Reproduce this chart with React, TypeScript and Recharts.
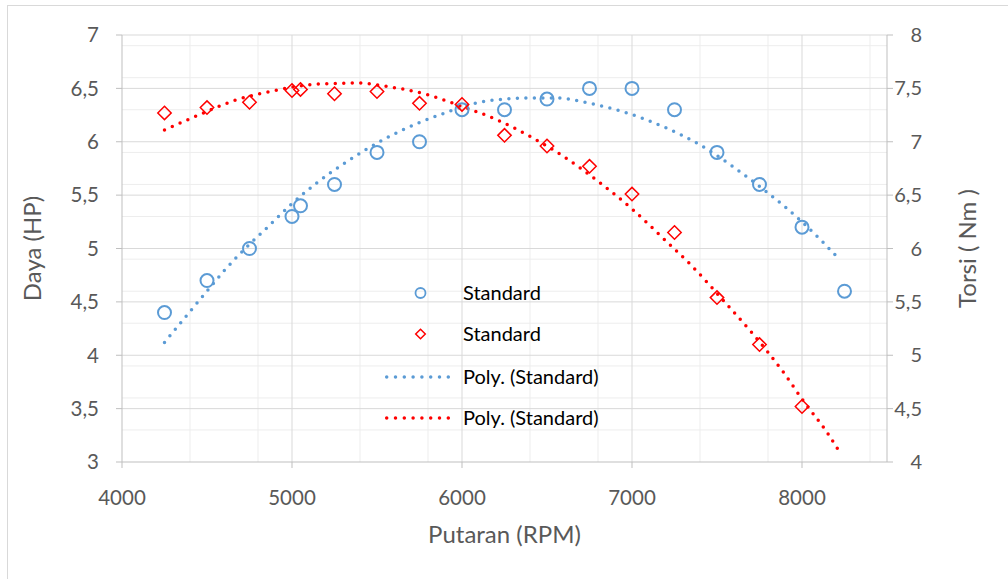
import React from 'react';
import {
  ComposedChart, Scatter, Line, XAxis, YAxis, CartesianGrid, Legend, Label,
} from 'recharts';

// Daya (HP) measured points
const dayaRpm = [4250, 4500, 4750, 5000, 5050, 5250, 5500, 5750, 6000, 6250, 6500, 6750, 7000, 7250, 7500, 7750, 8000, 8250];
const dayaHp = [4.4, 4.7, 5.0, 5.3, 5.4, 5.6, 5.9, 6.0, 6.3, 6.3, 6.4, 6.5, 6.5, 6.3, 5.9, 5.6, 5.2, 4.6];

// Torsi (Nm) measured points
const torsiRpm = [4250, 4500, 4750, 5000, 5050, 5250, 5500, 5750, 6000, 6250, 6500, 6750, 7000, 7250, 7500, 7750, 8000];
const torsiNm = [7.27, 7.32, 7.37, 7.48, 7.49, 7.45, 7.47, 7.36, 7.35, 7.06, 6.96, 6.77, 6.51, 6.15, 5.54, 5.10, 4.52];

// Poly. trendline (Daya)
const dayaTrendRpm = [4250, 4400, 4500, 4600, 4750, 4850, 5000, 5150, 5300, 5550, 5750, 5900, 6050, 6250, 6400, 6550, 6750, 6950, 7200, 7400, 7600, 7800, 8000, 8225];
const dayaTrendHp = [4.12, 4.41, 4.60, 4.79, 5.04, 5.19, 5.42, 5.62, 5.79, 6.03, 6.18, 6.27, 6.35, 6.40, 6.41, 6.41, 6.36, 6.28, 6.13, 5.97, 5.76, 5.52, 5.25, 4.89];

// Poly. trendline (Torsi)
const torsiTrendRpm = [4250, 4450, 4650, 4900, 5150, 5400, 5550, 5800, 6000, 6200, 6400, 6600, 6800, 7000, 7200, 7350, 7550, 7700, 7900, 8000, 8150, 8230];
const torsiTrendNm = [7.11, 7.25, 7.38, 7.48, 7.54, 7.55, 7.52, 7.44, 7.33, 7.21, 7.05, 6.86, 6.63, 6.37, 6.07, 5.84, 5.49, 5.22, 4.82, 4.59, 4.27, 4.07];

// Axis ticks
const xTicks = [4000, 5000, 6000, 7000, 8000];
const leftTicks = [3, 3.5, 4, 4.5, 5, 5.5, 6, 6.5, 7];
const rightTicks = [4, 4.5, 5, 5.5, 6, 6.5, 7, 7.5, 8];

// Gridlines
const majorX = [5000, 6000, 7000, 8000];
const minorX = [4200, 4400, 4600, 4800, 5200, 5400, 5600, 5800, 6200, 6400, 6600, 6800, 7200, 7400, 7600, 7800, 8200, 8400];
const majorY = [3.5, 4, 4.5, 5, 5.5, 6, 6.5, 7];
const minorY = [3.1, 3.2, 3.3, 3.4, 3.6, 3.7, 3.8, 3.9, 4.1, 4.2, 4.3, 4.4, 4.6, 4.7, 4.8, 4.9, 5.1, 5.2, 5.3, 5.4, 5.6, 5.7, 5.8, 5.9, 6.1, 6.2, 6.3, 6.4, 6.6, 6.7, 6.8, 6.9];

const legendLabels = ['Standard', 'Standard', 'Poly. (Standard)', 'Poly. (Standard)'];

const dayaData = dayaRpm.map((x, i) => ({ x, y: dayaHp[i] }));
const torsiData = torsiRpm.map((x, i) => ({ x, y: torsiNm[i] }));
const dayaTrend = dayaTrendRpm.map((x, i) => ({ x, y: dayaTrendHp[i] }));
const torsiTrend = torsiTrendRpm.map((x, i) => ({ x, y: torsiTrendNm[i] }));

const BLUE = '#5B9BD5';
const RED = '#FF0000';
const FONT = 'Lato, "Open Sans", sans-serif';
const GRAY = '#595959';

const fmt = (v: number) => String(v).replace('.', ',');

const BlueCircle = (p: any) => (
  <circle cx={p.cx} cy={p.cy} r={6.5} fill="none" stroke={BLUE} strokeWidth={2} />
);
const RedDiamond = (p: any) => (
  <path
    d={`M${p.cx},${p.cy - 6.7} L${p.cx + 6.7},${p.cy} L${p.cx},${p.cy + 6.7} L${p.cx - 6.7},${p.cy} Z`}
    fill="none" stroke={RED} strokeWidth={1.5}
  />
);

const RightTick = (p: any) => (
  <text x={p.x + 29} y={p.y} dy="0.355em" textAnchor="end" fill={GRAY} fontSize={20} fontFamily={FONT}>
    {fmt(p.payload.value)}
  </text>
);

const renderLegend = () => {
  const rows = [17, 58, 101, 142];
  return (
    <svg width={260} height={160} style={{ overflow: 'visible' }}>
      <circle cx={40.5} cy={rows[0]} r={5} fill="none" stroke={BLUE} strokeWidth={1.8} />
      <path d={`M40.5,${rows[1] - 4.8} L45.3,${rows[1]} L40.5,${rows[1] + 4.8} L35.7,${rows[1]} Z`} fill="none" stroke={RED} strokeWidth={1.5} />
      <line x1={6.7} y1={rows[2]} x2={68.4} y2={rows[2]} stroke={BLUE} strokeWidth={3.5} strokeDasharray="0 8.8" strokeLinecap="round" />
      <line x1={6.7} y1={rows[3]} x2={68.4} y2={rows[3]} stroke={RED} strokeWidth={3.5} strokeDasharray="0 8.8" strokeLinecap="round" />
      {legendLabels.map((t, i) => (
        <text key={i} x={83} y={rows[i]} dy="0.35em" fontSize={20} fontFamily={FONT} fill="#000">{t}</text>
      ))}
    </svg>
  );
};

export default function App() {
  return (
    <div style={{ position: 'absolute', left: 0, top: 0, width: 1008, height: 579, background: '#fff', overflow: 'hidden' }}>
      <div style={{ position: 'absolute', left: 7, top: 5, width: 1020, height: 600, border: '1px solid #D9D9D9' }} />
      <ComposedChart width={1008} height={579} margin={{ top: 35, right: 61, bottom: 77, left: 62 }}>
        <CartesianGrid yAxisId="left" stroke="#EDEDED" strokeWidth={1} verticalValues={minorX} horizontalValues={minorY} />
        <CartesianGrid yAxisId="left" stroke="#D9D9D9" strokeWidth={1} verticalValues={majorX} horizontalValues={majorY} />
        <XAxis
          type="number" dataKey="x" domain={[4000, 8500]} ticks={xTicks} allowDataOverflow
          stroke="#BFBFBF" tickSize={6} tickMargin={22} height={40}
          tick={{ fill: GRAY, fontSize: 20.5, fontFamily: FONT }}
        >
          <Label content={(props: any) => {
            const vb = props.viewBox;
            return <text x={vb.x + vb.width / 2} y={543} textAnchor="middle" fill={GRAY} fontSize={24} fontFamily={FONT}>Putaran (RPM)</text>;
          }} />
        </XAxis>
        <YAxis
          yAxisId="left" type="number" dataKey="y" domain={[3, 7]} ticks={leftTicks} allowDataOverflow
          width={60} stroke="#BFBFBF" tickSize={6} tickMargin={17} tickFormatter={fmt}
          tick={{ fill: GRAY, fontSize: 20.5, fontFamily: FONT }}
        >
          <Label content={(props: any) => {
            const vb = props.viewBox;
            const cx = 41; const cy = vb.y + vb.height / 2;
            return <text x={cx} y={cy} transform={`rotate(-90 ${cx} ${cy})`} textAnchor="middle" fill={GRAY} fontSize={24} fontFamily={FONT}>Daya (HP)</text>;
          }} />
        </YAxis>
        <YAxis
          yAxisId="right" orientation="right" type="number" dataKey="y" domain={[4, 8]} ticks={rightTicks} allowDataOverflow
          width={60} stroke="#BFBFBF" tickSize={6} tickMargin={0} tick={<RightTick />}
        >
          <Label content={(props: any) => {
            const vb = props.viewBox;
            const cx = 976; const cy = vb.y + vb.height / 2;
            return <text x={cx} y={cy} transform={`rotate(-90 ${cx} ${cy})`} textAnchor="middle" fill={GRAY} fontSize={24} fontFamily={FONT}>Torsi ( Nm )</text>;
          }} />
        </YAxis>
        <Scatter yAxisId="left" data={dayaData} dataKey="y" shape={<BlueCircle />} isAnimationActive={false} />
        <Scatter yAxisId="right" data={torsiData} dataKey="y" shape={<RedDiamond />} isAnimationActive={false} />
        <Line yAxisId="left" data={dayaTrend} dataKey="y" type="monotone" stroke={BLUE} strokeWidth={3.5}
          strokeDasharray="0 8.5" strokeLinecap="round" dot={false} activeDot={false} isAnimationActive={false} />
        <Line yAxisId="right" data={torsiTrend} dataKey="y" type="monotone" stroke={RED} strokeWidth={3.5}
          strokeDasharray="0 8.5" strokeLinecap="round" dot={false} activeDot={false} isAnimationActive={false} />
        <Legend
          layout="vertical" align="center" verticalAlign="middle" content={renderLegend}
          wrapperStyle={{ position: 'absolute', left: 380, top: 276, width: 260, height: 160 }}
        />
      </ComposedChart>
    </div>
  );
}
